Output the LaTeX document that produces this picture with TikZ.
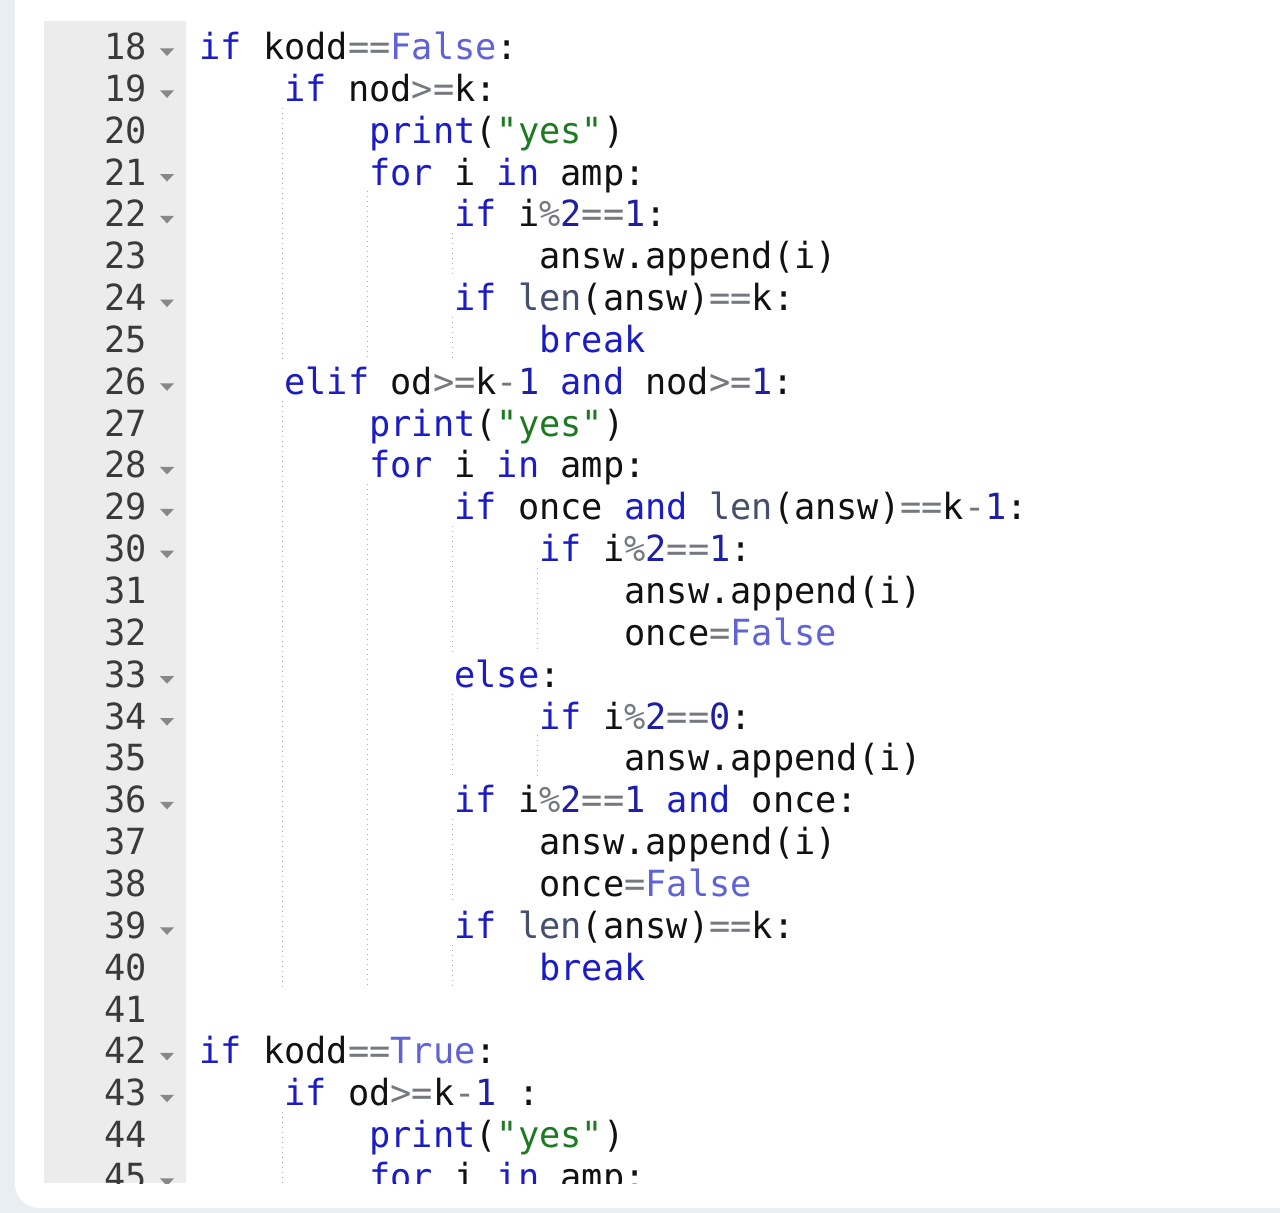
\documentclass[tikz,border=0pt]{standalone}
\usepackage{fontspec}
\setmonofont[FakeStretch=0.98]{DejaVu Sans Mono}
\usepackage{xcolor}
\usetikzlibrary{positioning}

\definecolor{kwblue}{HTML}{1C1CC4}
\definecolor{numblue}{HTML}{1F1FA3}
\definecolor{cstblue}{HTML}{5F63D6}
\definecolor{oprgrey}{HTML}{75797F}
\definecolor{fncslate}{HTML}{44506E}
\definecolor{strgreen}{HTML}{1E7A22}
\definecolor{codeblack}{HTML}{111111}
\definecolor{gutgrey}{HTML}{ECECEC}
\definecolor{numgrey}{HTML}{3A3A3A}
\definecolor{foldgrey}{HTML}{888888}
\definecolor{guidegrey}{HTML}{ABABAB}
\definecolor{pagebg}{HTML}{E9EEF3}

\newcommand{\kwd}[1]{\textcolor{kwblue}{#1}}
\newcommand{\nmb}[1]{\textcolor{numblue}{#1}}
\newcommand{\cst}[1]{\textcolor{cstblue}{#1}}
\newcommand{\opr}[1]{\textcolor{oprgrey}{#1}}
\newcommand{\fnc}[1]{\textcolor{fncslate}{#1}}
\newcommand{\strg}[1]{\textcolor{strgreen}{#1}}

\begin{document}
\begin{tikzpicture}[x=0.5pt,y=-0.5pt,
    code/.style={anchor=base west, inner sep=0pt, text=codeblack,
        font=\ttfamily\fontsize{18}{18}\selectfont},
    lnum/.style={anchor=base east, inner sep=0pt, text=numgrey,
        font=\ttfamily\fontsize{18}{18}\selectfont},
    guide/.style={draw=guidegrey, dotted, line width=0.5pt}]

    \useasboundingbox (0,0) rectangle (1280,1213);
    % page and editor panel
    \fill[pagebg] (0,0) rectangle (1280,1213);
    \fill[white, rounded corners=12] (15,-30) rectangle (1310,1208);
    \fill[gutgrey] (44,21) rectangle (186,1183);

    \begin{scope}
    \clip (44,21) rectangle (1280,1183);

    % indent guides
    \foreach \gx/\ga/\gb in {282/20/25, 282/27/40, 282/44/46,
        367/22/25, 367/29/40,
        452/23/23, 452/25/25, 452/30/32, 452/34/35, 452/37/38, 452/40/40,
        537/31/32, 537/35/35}
        \draw[guide] (\gx,{24+(\ga-18)*41.85}) -- (\gx,{24+(\gb-17)*41.85});

    % fold arrows
    \foreach \fl in {18,19,21,22,24,26,28,29,30,33,34,36,39,42,43,45}
        \fill[foldgrey] (160,{48.5+(\fl-18)*41.85}) -- (174,{48.5+(\fl-18)*41.85})
            -- (167,{56+(\fl-18)*41.85}) -- cycle;

    % line numbers
    \foreach \ln in {18,...,45}
        \node[lnum] (n\ln) at (147,{59.5+(\ln-18)*41.85}) {\ln};

    % code lines
    \node[code] (c18) at (199,59.5) {\kwd{if} kodd\opr{==}\cst{False}:};
    \node[code] (c19) at (284,101.35) {\kwd{if} nod\opr{>=}k:};
    \node[code] (c20) at (369,143.2) {\kwd{print}(\strg{"yes"})};
    \node[code] (c21) at (369,185.05) {\kwd{for} i \kwd{in} amp:};
    \node[code] (c22) at (454,226.9) {\kwd{if} i\opr{\%}\nmb{2}\opr{==}\nmb{1}:};
    \node[code] (c23) at (539,268.75) {answ.append(i)};
    \node[code] (c24) at (454,310.6) {\kwd{if} \fnc{len}(answ)\opr{==}k:};
    \node[code] (c25) at (539,352.45) {\kwd{break}};
    \node[code] (c26) at (284,394.3) {\kwd{elif} od\opr{>=}k\opr{-}\nmb{1} \kwd{and} nod\opr{>=}\nmb{1}:};
    \node[code] (c27) at (369,436.15) {\kwd{print}(\strg{"yes"})};
    \node[code] (c28) at (369,478.0) {\kwd{for} i \kwd{in} amp:};
    \node[code] (c29) at (454,519.85) {\kwd{if} once \kwd{and} \fnc{len}(answ)\opr{==}k\opr{-}\nmb{1}:};
    \node[code] (c30) at (539,561.7) {\kwd{if} i\opr{\%}\nmb{2}\opr{==}\nmb{1}:};
    \node[code] (c31) at (624,603.55) {answ.append(i)};
    \node[code] (c32) at (624,645.4) {once\opr{=}\cst{False}};
    \node[code] (c33) at (454,687.25) {\kwd{else}:};
    \node[code] (c34) at (539,729.1) {\kwd{if} i\opr{\%}\nmb{2}\opr{==}\nmb{0}:};
    \node[code] (c35) at (624,770.95) {answ.append(i)};
    \node[code] (c36) at (454,812.8) {\kwd{if} i\opr{\%}\nmb{2}\opr{==}\nmb{1} \kwd{and} once:};
    \node[code] (c37) at (539,854.65) {answ.append(i)};
    \node[code] (c38) at (539,896.5) {once\opr{=}\cst{False}};
    \node[code] (c39) at (454,938.35) {\kwd{if} \fnc{len}(answ)\opr{==}k:};
    \node[code] (c40) at (539,980.2) {\kwd{break}};
    \node[code] (c42) at (199,1063.9) {\kwd{if} kodd\opr{==}\cst{True}:};
    \node[code] (c43) at (284,1105.75) {\kwd{if} od\opr{>=}k\opr{-}\nmb{1} :};
    \node[code] (c44) at (369,1147.6) {\kwd{print}(\strg{"yes"})};
    \node[code] (c45) at (369,1189.45) {\kwd{for} i \kwd{in} amp:};
    \end{scope}
\end{tikzpicture}
\end{document}
